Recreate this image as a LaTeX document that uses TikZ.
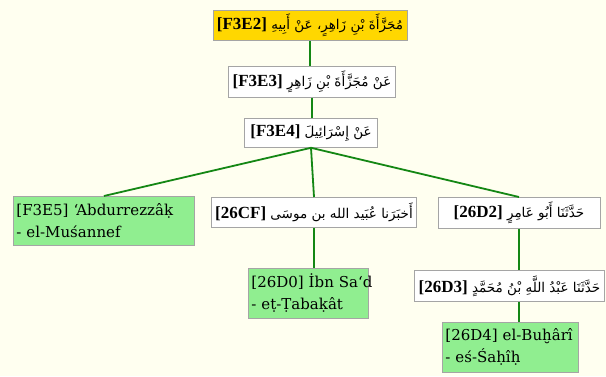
\documentclass[tikz,border=0pt]{standalone}
\usepackage{fontspec}
\setmainfont{DejaVu Serif}
\newfontfamily\arabicfont[Script=Arabic]{DejaVu Sans}
\newfontfamily\codefont{Liberation Serif}
\TeXXeTstate=1
\definecolor{zemin}{RGB}{255,255,240}
\definecolor{altin}{RGB}{255,215,0}
\definecolor{yesil}{RGB}{144,238,144}
\definecolor{hatrenk}{RGB}{20,135,20}
\definecolor{kenar}{RGB}{165,165,165}
\newcommand{\kod}[1]{\beginL{\codefont\bfseries\fontsize{17}{20}\selectfont[#1]}\endL}

\begin{document}
\begin{tikzpicture}[x=1pt, y=-1pt,
	main/.style={draw=kenar, line width=0.8pt, rectangle, inner sep=4pt, fill=white, anchor=north},
	ravi/.style={main, font=\arabicfont\fontsize{13.5}{18}\selectfont},
	kok/.style={ravi, fill=altin},
	kaynak/.style={main, fill=yesil, anchor=north west, align=left, inner xsep=3pt, font=\fontsize{15}{22}\selectfont},
	hat/.style={draw=hatrenk, line width=1.8pt}]
	\fill[zemin] (0,0) rectangle (606,376);
	\useasboundingbox (0,0) rectangle (606,376);

	%Ravi zinciri
	\node[kok, minimum width=187, minimum height=28] (mucezze) at (310,10) {\beginR مُجَزَّأَةَ بْنِ زَاهِرٍ، عَنْ أَبِيهِ \kod{F3E2}\endR};
	\node[ravi, minimum width=159, minimum height=31] (mucezzeb) at (312,66) {\beginR عَنْ مُجَزَّأَةَ بْنِ زَاهِرٍ \kod{F3E3}\endR};
	\node[ravi, minimum width=133, minimum height=29] (israil) at (311,118) {\beginR عَنْ إِسْرَائِيلَ \kod{F3E4}\endR};
	\node[ravi, minimum width=201, minimum height=30] (ubeydullah) at (314,197) {\beginR أَخبَرَنا عُبَيد الله بن موسَى \kod{26CF}\endR};
	\node[ravi, minimum width=162, minimum height=31] (ebuamir) at (519,197) {\beginR حَدَّثَنَا أَبُو عَامِرٍ \kod{26D2}\endR};
	\node[ravi, minimum width=183, minimum height=31] (abdullah) at (509.5,270) {\beginR حَدَّثَنَا عَبْدُ اللَّهِ بْنُ مُحَمَّدٍ \kod{26D3}\endR};

	%Kaynaklar
	\node[kaynak, text width=175, minimum height=49] (abdurrezzak) at (13,196) {\mbox{[F3E5] ʻAbdurrezzâḳ}\\\mbox{- el-Muśannef}};
	\node[kaynak, text width=114, minimum height=50] (ibnsad) at (248,268) {\mbox{[26D0] İbn Saʻd}\\\mbox{- eṭ-Ṭabaḳât}};
	\node[kaynak, text width=130, minimum height=50] (buhari) at (442,322) {\mbox{[26D4] el-Buḫârî}\\\mbox{- eś-Śaḥîḥ}};

	%Kenarlar
	\draw[hat] (mucezze.south) -- (mucezze.south |- mucezzeb.north);
	\draw[hat] (mucezzeb.south) -- (mucezzeb.south |- israil.north);
	\draw[hat] (israil.south) -- (abdurrezzak.north);
	\draw[hat] (israil.south) -- (ubeydullah.north);
	\draw[hat] (israil.south) -- (ebuamir.north);
	\draw[hat] (ubeydullah.south) -- (ubeydullah.south |- ibnsad.north);
	\draw[hat] (ebuamir.south) -- (ebuamir.south |- abdullah.north);
	\draw[hat] (abdullah.south -| ebuamir.south) -- (ebuamir.south |- buhari.north);
\end{tikzpicture}
\end{document}
